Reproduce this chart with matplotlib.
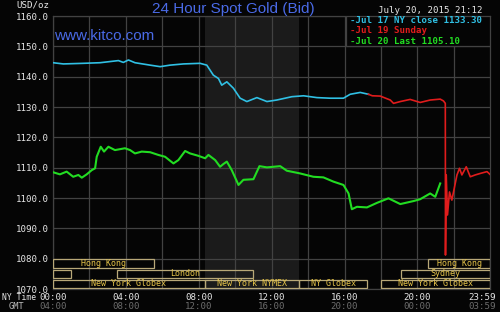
import matplotlib
matplotlib.use("Agg")
import matplotlib.pyplot as plt
import matplotlib.transforms as mtransforms
from matplotlib.patches import Rectangle
import numpy as np

# --- Data (hours since 00:00 NY time, USD/oz) ---
jul17_hours = [0.0, 0.57, 1.66, 2.58, 3.59, 3.86, 4.14, 4.50, 5.33, 5.88, 6.42, 7.16,
               8.07, 8.44, 8.80, 9.08, 9.26, 9.54, 9.90, 10.27, 10.64, 11.19, 11.74,
               12.28, 13.11, 13.75, 14.48, 15.21, 15.94, 16.31, 16.86, 17.31]
jul17_price = [1144.6, 1144.2, 1144.4, 1144.6, 1145.3, 1144.7, 1145.5, 1144.6, 1143.8,
               1143.3, 1143.8, 1144.2, 1144.4, 1143.8, 1140.5, 1139.4, 1137.2, 1138.3,
               1136.2, 1132.9, 1131.8, 1133.1, 1131.8, 1132.3, 1133.4, 1133.7, 1133.1,
               1132.9, 1132.9, 1134.2, 1134.8, 1134.2]

jul19_hours = [17.31, 17.52, 17.96, 18.51, 18.69, 19.06, 19.60, 20.15, 20.70, 21.25,
               21.43, 21.53, 21.54, 21.58, 21.65, 21.76, 21.89, 22.17, 22.31, 22.44,
               22.68, 22.90, 23.17, 23.45, 23.82, 23.98]
jul19_price = [1134.2, 1133.7, 1133.6, 1132.3, 1131.2, 1131.8, 1132.5, 1131.5, 1132.3,
               1132.6, 1132.0, 1131.2, 1081.2, 1107.6, 1094.4, 1102.0, 1099.3, 1107.6,
               1109.8, 1107.6, 1110.3, 1107.0, 1107.6, 1108.1, 1108.7, 1107.8]

jul20_hours = [0.0, 0.38, 0.75, 1.11, 1.39, 1.58, 1.85, 2.13, 2.31, 2.40, 2.62, 2.80,
               3.04, 3.40, 3.95, 4.23, 4.50, 4.87, 5.33, 5.78, 6.15, 6.61, 6.88, 7.25,
               7.52, 7.98, 8.35, 8.53, 8.90, 9.17, 9.35, 9.54, 9.81, 10.18, 10.45, 11.00,
               11.33, 11.74, 12.47, 12.83, 13.56, 14.29, 14.84, 15.39, 15.94, 16.22,
               16.40, 16.68, 17.23, 17.78, 18.41, 19.06, 19.79, 20.15, 20.70, 20.98, 21.25]
jul20_price = [1108.5, 1107.8, 1108.7, 1107.0, 1107.6, 1106.7, 1107.8, 1109.2, 1109.8,
               1113.6, 1116.9, 1115.3, 1116.9, 1115.8, 1116.4, 1115.8, 1114.7, 1115.3,
               1115.1, 1114.2, 1113.6, 1111.4, 1112.5, 1115.5, 1114.7, 1113.9, 1113.1,
               1114.2, 1112.5, 1110.3, 1111.2, 1112.0, 1109.2, 1104.3, 1106.0, 1106.2,
               1110.5, 1110.1, 1110.5, 1109.0, 1108.1, 1107.0, 1106.8, 1105.4, 1104.3,
               1101.5, 1096.3, 1097.1, 1096.9, 1098.4, 1099.9, 1098.0, 1099.0, 1099.6,
               1101.5, 1100.4, 1104.8]

legend_labels = ["-Jul 17 NY close 1133.30", "-Jul 19 Sunday", "-Jul 20 Last 1105.10"]

ny_tick_hours = [0, 4, 8, 12, 16, 20, 23.983]
ny_tick_labels = ["00:00", "04:00", "08:00", "12:00", "16:00", "20:00", "23:59"]
gmt_tick_labels = ["04:00", "08:00", "12:00", "16:00", "20:00", "00:00", "03:59"]
price_ticks = [1070, 1080, 1090, 1100, 1110, 1120, 1130, 1140, 1150, 1160]

# trading sessions: (row from top, start hour, end hour, label)
sessions = [
    (0, 0.0, 5.55, "Hong Kong"),
    (0, 20.6, 23.983, "Hong Kong"),
    (1, 0.0, 1.0, ""),
    (1, 3.5, 11.0, "London"),
    (1, 19.1, 23.983, "Sydney"),
    (2, 0.0, 8.33, "New York Globex"),
    (2, 8.33, 13.5, "New York NYMEX"),
    (2, 13.5, 17.25, "NY Globex"),
    (2, 18.0, 23.983, "New York Globex"),
]
pit_start, pit_end = 8.33, 13.5

# --- Style ---
BG = "#050505"
GRID = "#424242"
BLUE = "#30c0e4"
RED = "#e01c1c"
GREEN = "#22dc22"
GOLD = "#e6c44a"
BOXC = "#b8a878"
MONO = "DejaVu Sans Mono"

fig = plt.figure(figsize=(5.0, 3.12), dpi=100, facecolor=BG)
ax = fig.add_axes([0.106, 0.0737, 0.874, 0.875])
ax.set_facecolor(BG)
ax.set_xlim(0, 23.983)
ax.set_ylim(1070, 1160)

# NYMEX pit session shading
ax.axvspan(pit_start, pit_end, color="#1b1b1b", zorder=0, lw=0)

# grid
for h in np.arange(0, 24, 2):
    ax.axvline(h, color=GRID, lw=0.9, zorder=1)
for p in price_ticks:
    ax.axhline(p, color=GRID, lw=0.9, zorder=1)

for s in ax.spines.values():
    s.set_color(GRID)
    s.set_linewidth(0.9)

ax.plot(jul17_hours, jul17_price, color=BLUE, lw=1.2, zorder=4)
ax.plot(jul19_hours, jul19_price, color=RED, lw=1.2, zorder=4)
ax.plot(jul20_hours, jul20_price, color=GREEN, lw=1.5, zorder=4)

# session boxes in the bottom band
row_h = 10 / 3
for row, start, end, label in sessions:
    y0 = 1080 - (row + 1) * row_h
    ax.add_patch(Rectangle((start, y0 + 0.25), end - start, row_h - 0.5,
                           fill=False, edgecolor=BOXC, lw=0.9, zorder=5))
    if label:
        ax.text((start + end) / 2, y0 + row_h / 2, label, color=GOLD,
                fontsize=6, family=MONO, ha="center", va="center", zorder=6)

# axes ticks
ax.set_yticks(price_ticks)
ax.set_yticklabels([f"{p:.1f}" for p in price_ticks], family=MONO,
                   fontsize=6.6, color="#e6e6e6")
ax.set_xticks(ny_tick_hours)
ax.set_xticklabels(ny_tick_labels, family=MONO, fontsize=6.6, color="#e6e6e6")
ax.tick_params(length=0, pad=3)

# pull the 23:59 label back inside the figure
shift = mtransforms.ScaledTranslation(-8 / 100, 0, fig.dpi_scale_trans)
last = ax.get_xticklabels()[-1]
last.set_transform(last.get_transform() + shift)

trans = mtransforms.blended_transform_factory(ax.transData, fig.transFigure)
for i, (h, lab) in enumerate(zip(ny_tick_hours, gmt_tick_labels)):
    t = ax.text(h, 0.004, lab, transform=trans, family=MONO, fontsize=6.6,
                color="#6c6c6c", ha="center", va="bottom", clip_on=False)
    if i == len(ny_tick_hours) - 1:
        t.set_transform(trans + shift)
fig.text(0.004, 0.045, "NY Time", family=MONO, fontsize=5.8, color="#e6e6e6",
         ha="left", va="center")
fig.text(0.018, 0.004, "GMT", family=MONO, fontsize=6.2, color="#bdbdbd",
         ha="left", va="bottom")

# legend box
ax.add_patch(Rectangle((16.09, 1150), 23.983 - 16.09, 10, facecolor=BG,
                       edgecolor=GRID, lw=0.9, zorder=7))
for i, (lab, col) in enumerate(zip(legend_labels, [BLUE, RED, GREEN])):
    ax.text(16.3, 1158.5 - i * 3.4, lab, color=col, family=MONO, fontsize=6.6,
            fontweight="bold", ha="left", va="center", zorder=8)

# header texts
fig.text(0.467, 0.972, "24 Hour Spot Gold (Bid)", family="Liberation Sans",
         fontsize=11, color="#4a6ae6", ha="center", va="center")
fig.text(0.108, 0.885, "www.kitco.com", family="Liberation Sans", fontsize=11,
         color="#4a6ae6", ha="left", va="center")
fig.text(0.032, 0.983, "USD/oz", family=MONO, fontsize=6.6, color="#e6e6e6",
         ha="left", va="center")
fig.text(0.966, 0.965, "July 20, 2015 21:12", family=MONO, fontsize=6.6,
         color="#e6e6e6", ha="right", va="center")

fig.savefig("out.png", dpi=100, facecolor=BG)
